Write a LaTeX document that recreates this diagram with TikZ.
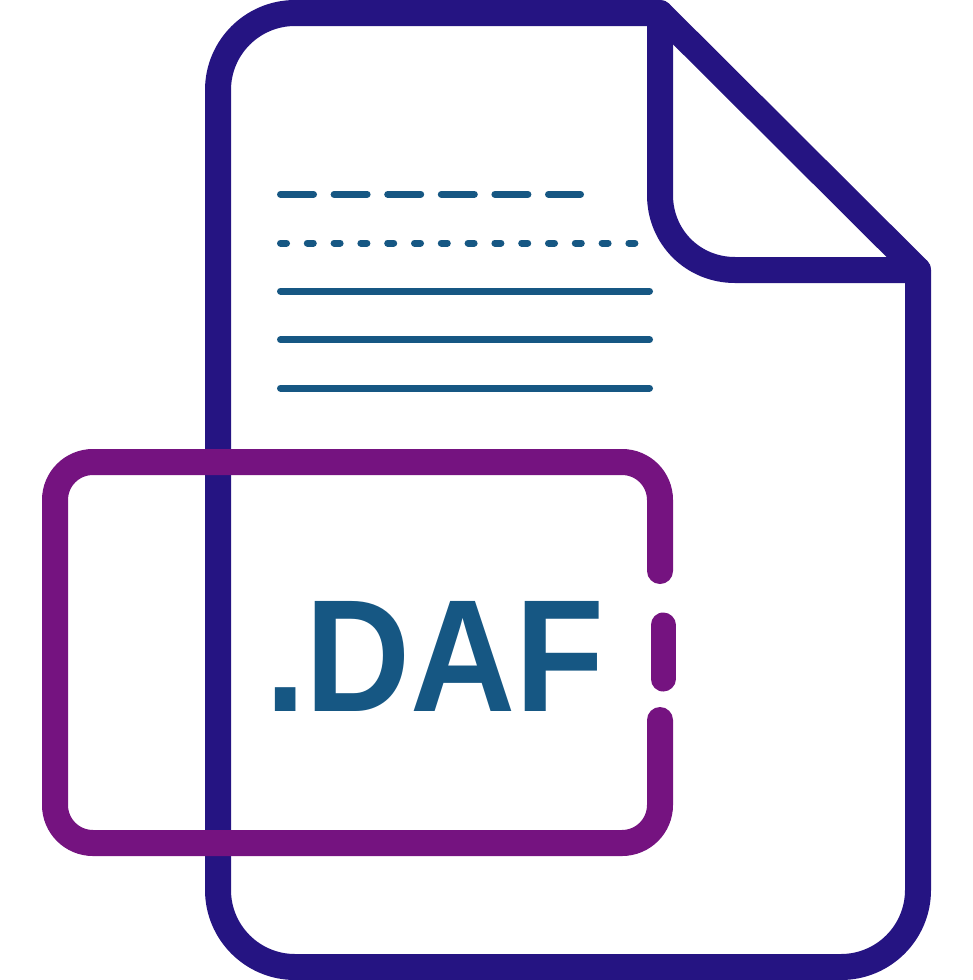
\documentclass[tikz,border=0pt]{standalone}
\usepackage{fontspec}
\setmainfont{Liberation Sans}
\definecolor{docnavy}{HTML}{251482}
\definecolor{tagpurple}{HTML}{751380}
\definecolor{inkblue}{HTML}{165783}
\tikzset{
  docline/.style={draw=docnavy,line width=26pt,line join=round,line cap=round},
  tagline/.style={draw=tagpurple,line width=26pt,line cap=round},
  textline/.style={draw=inkblue,line width=7pt,line cap=round},
}
\begin{document}
\begin{tikzpicture}[x=1pt,y=-1pt]
\useasboundingbox (0,0) rectangle (973,980);
% page outline
\draw[docline] (660,13) -- (295,13) arc[start angle=270,end angle=180,radius=77]
  -- (218,890) arc[start angle=180,end angle=90,radius=77]
  -- (841,967) arc[start angle=90,end angle=0,radius=77]
  -- (918,270) -- cycle;
% fold
\draw[docline] (660,13) -- (660,195)
  .. controls (660,237) and (693,270) .. (735,270) -- (918,270);
% text lines
\draw[textline,dash pattern=on 33pt off 20.6pt] (280.5,194.3) -- (580.5,194.3);
\draw[textline,dash pattern=on 6pt off 20.8pt] (280.5,243) -- (635,243);
\draw[textline] (280.5,291) -- (649.5,291);
\draw[textline] (280.5,339.7) -- (649.5,339.7);
\draw[textline] (280.5,388) -- (649.5,388);
% tag
\draw[tagline] (660,571) -- (660,500) arc[start angle=0,end angle=-90,radius=38]
  -- (93,462) arc[start angle=270,end angle=180,radius=38]
  -- (55,805) arc[start angle=180,end angle=90,radius=38]
  -- (622,843) arc[start angle=90,end angle=0,radius=38] -- (660,720);
\draw[tagline,line width=25pt] (663,625) -- (663,679);
\node[anchor=base west,inner sep=0pt,text=inkblue,font=\bfseries\fontsize{160}{160}\selectfont] (label) at (265,711) {\scalebox{0.91}[1]{.DAF}};
\end{tikzpicture}
\end{document}
